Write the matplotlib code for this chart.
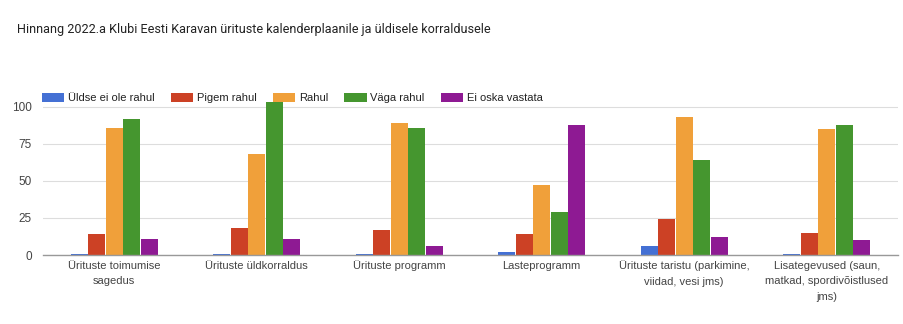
import numpy as np
import matplotlib.pyplot as plt
from matplotlib.patches import Patch

plt.rcParams['font.family'] = ['Liberation Sans', 'DejaVu Sans']

title = "Hinnang 2022.a Klubi Eesti Karavan ürituste kalenderplaanile ja üldisele korraldusele"

categories = ["Ürituste toimumise\nsagedus",
              "Ürituste üldkorraldus",
              "Ürituste programm",
              "Lasteprogramm",
              "Ürituste taristu (parkimine,\nviidad, vesi jms)",
              "Lisategevused (saun,\nmatkad, spordivõistlused\njms)"]

series_names = ["Üldse ei ole rahul", "Pigem rahul", "Rahul", "Väga rahul", "Ei oska vastata"]
uldse = [1, 1, 1, 2, 6, 1]
pigem = [14, 18, 17, 14, 24, 15]
rahul = [86, 68, 89, 47, 93, 85]
vaga = [92, 103, 86, 29, 64, 88]
ei_oska = [11, 11, 6, 88, 12, 10]

colors = ['#4470d4', '#cc4125', '#f0a03a', '#45962f', '#8e1a93']

fig = plt.figure(figsize=(9.04, 3.24), dpi=100)
ax = fig.add_axes([43/904, 69/324, 855/904, 160/324])

x = np.arange(len(categories))
w = 0.123
for k, vals in enumerate([uldse, pigem, rahul, vaga, ei_oska]):
    ax.bar(x + (k - 2) * w, vals, width=w * 0.95, color=colors[k],
           linewidth=0, zorder=3)

ax.set_xlim(-0.5, 5.5)
ax.set_ylim(0, 108)
ax.set_yticks([0, 25, 50, 75, 100])
ax.set_xticks(x)
ax.set_xticklabels(categories, fontsize=8, color='#333333', linespacing=1.7)
ax.tick_params(axis='both', length=0, colors='#444444')
ax.tick_params(axis='y', labelsize=8.5, pad=8)
ax.tick_params(axis='x', pad=4)
ax.grid(axis='y', color='#dddddd', linewidth=0.8, zorder=0)
for s in ['top', 'right', 'left']:
    ax.spines[s].set_visible(False)
ax.spines['bottom'].set_color('#999999')
ax.spines['bottom'].set_linewidth(1.0)
ax.spines['bottom'].set_zorder(4)

fig.text(17/904, 1 - 30/324, title, fontsize=9.1, family='Roboto',
         color='#222222', va='center', ha='left')

handles = [Patch(facecolor=c, edgecolor='none') for c in colors]
fig.legend(handles, series_names, loc='center left', ncol=5,
           bbox_to_anchor=(32/904, 1 - 98/324), frameon=False,
           fontsize=8, handlelength=2.0, handleheight=0.85,
           handletextpad=0.35, columnspacing=1.45, labelcolor='#222222')

fig.savefig('out.png', dpi=100)
